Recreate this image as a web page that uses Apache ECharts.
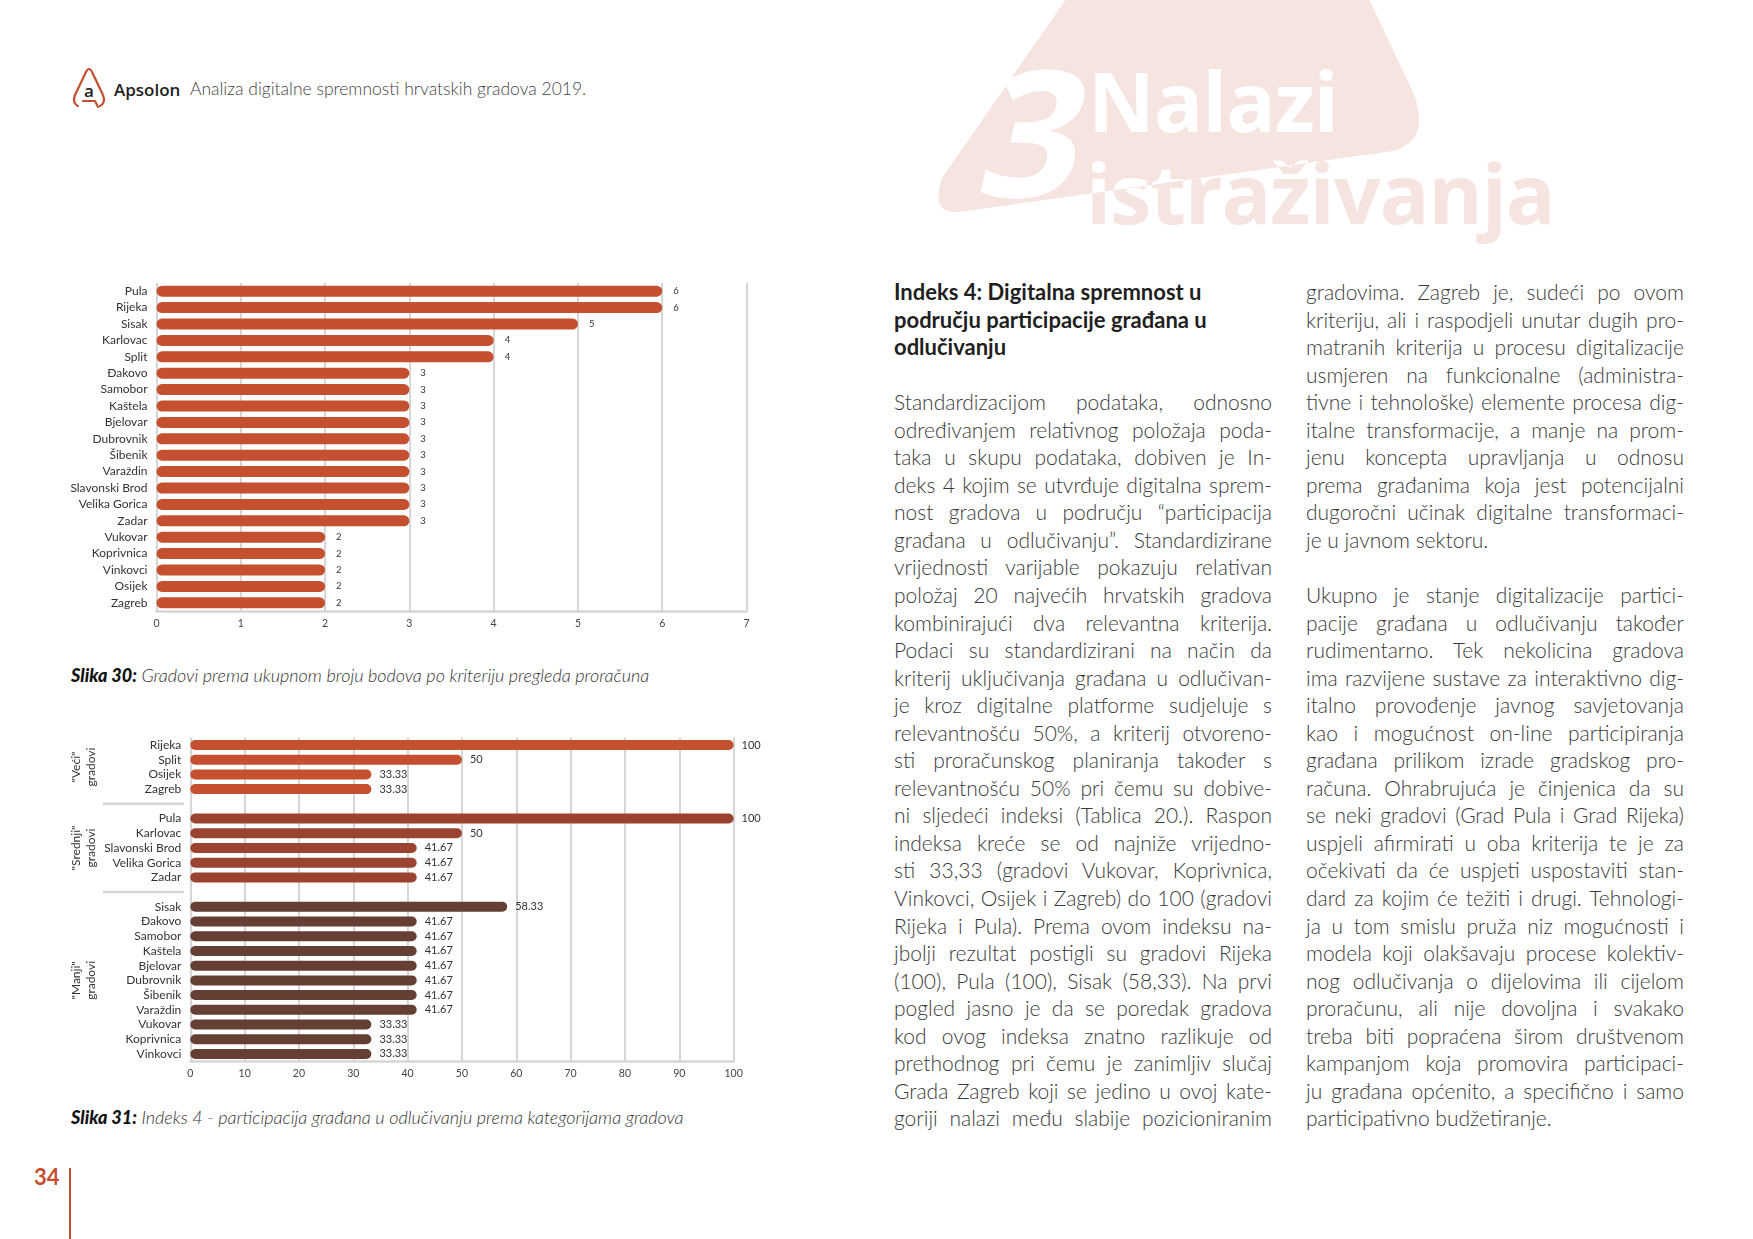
<!DOCTYPE html>
<html>
<head>
<meta charset="utf-8">
<script src="https://cdn.jsdelivr.net/npm/echarts@6/dist/echarts.min.js"></script>
<style>
  html, body { margin: 0; padding: 0; background: #fff; }
  #page { position: relative; width: 1753px; height: 1239px; overflow: hidden; background: #fff; font-family: Lato, "Open Sans", sans-serif; }
  #deco { position: absolute; left: 0; top: 0; }
  #chart { position: absolute; left: 0; top: 0; width: 1753px; height: 1239px; }
  .hdr { position: absolute; white-space: nowrap; }
  .col { position: absolute; width: 378px; color: #3a3a3a; font-weight: 300; font-size: 21px; }
  .ln { height: 27.55px; line-height: 27.55px; white-space: nowrap; text-align: justify; text-align-last: justify; }
  .ln.last { text-align: left; text-align-last: left; }
  .hd { font-weight: 700; color: #1f1f1f; font-size: 22px; text-align-last: left; text-align: left; }
  .cap { position: absolute; font-style: italic; font-weight: 300; font-size: 18px; color: #333; white-space: nowrap; }
  .cap b { font-weight: 900; color: #111; }
</style>
</head>
<body>
<div id="page">
  <svg id="deco" width="1753" height="1239" xmlns="http://www.w3.org/2000/svg">
    <defs>
      <clipPath id="shapeClip">
        <path d="M1069,-5 L1367,-5 L1413,92 Q1432,140 1393,151 L966,211 Q928,218 942,178 Z"/>
      </clipPath>
    </defs>
    <path d="M1069,-5 L1367,-5 L1413,92 Q1432,140 1393,151 L966,211 Q928,218 942,178 Z" fill="#f6e4e0"/>
    <g font-family="'Open Sans', sans-serif" font-weight="700">
      <text x="1086" y="224" font-size="82.5" fill="#f6e4e0" letter-spacing="-1">istraživanja</text>
      <g clip-path="url(#shapeClip)" fill="#ffffff">
        <text x="975" y="197" font-size="176" transform="skewX(-12) translate(40,0)">3</text>
        <text x="1088" y="132" font-size="82" letter-spacing="-1">Nalazi</text>
        <text x="1086" y="224" font-size="82.5" letter-spacing="-1">istraživanja</text>
      </g>
    </g>
    <!-- logo -->
    <g fill="none" stroke="#c4502f" stroke-width="2.2" stroke-linecap="round" stroke-linejoin="round">
      <path d="M78,106 Q72,103 75,95 L86,72 Q89,66 92,72 L103,95 Q106,103 100,106"/>
      <path d="M83,101 L95,101 L98,107"/>
    </g>
    <text x="89" y="97" font-family="'Open Sans', sans-serif" font-weight="600" font-size="17" fill="#222" text-anchor="middle">a</text>
    <line x1="70" y1="1168" x2="70" y2="1239" stroke="#c4502f" stroke-width="2"/>
  </svg>

  <div class="hdr" style="left:114px; top:78px; font-size:17px; color:#222; font-family:'Open Sans',sans-serif; font-weight:600;">Apsolon</div>
  <div class="hdr" style="left:190px; top:78px; font-size:17.5px; font-weight:300; color:#444;">Analiza digitalne spremnosti hrvatskih gradova 2019.</div>

  <div class="hdr" style="left:34px; top:1163px; font-size:22px; font-weight:700; color:#c4502f;">34</div>

  <div class="cap" style="left:71px; top:664px;"><b>Slika 30:</b> Gradovi prema ukupnom broju bodova po kriteriju pregleda proračuna</div>
  <div class="cap" style="left:71px; top:1106px;"><b>Slika 31:</b> Indeks 4 - participacija građana u odlučivanju prema kategorijama gradova</div>

  <div class="col" id="col1" style="left:894px; top:278px;"></div>
  <div class="col" id="col2" style="left:1306px; top:278px;"></div>

  <div id="chart"></div>
</div>
<script>
// ---------- Chart 1 data (Slika 30) ----------
const cities1 = ['Pula','Rijeka','Sisak','Karlovac','Split','Đakovo','Samobor','Kaštela','Bjelovar','Dubrovnik','Šibenik','Varaždin','Slavonski Brod','Velika Gorica','Zadar','Vukovar','Koprivnica','Vinkovci','Osijek','Zagreb'];
const points1 = [6,6,5,4,4,3,3,3,3,3,3,3,3,3,3,2,2,2,2,2];
const axis1Max = 7;

// ---------- Chart 2 data (Slika 31) ----------
const bigCities = ['Rijeka','Split','Osijek','Zagreb'];
const bigIndex = [100,50,33.33,33.33];
const midCities = ['Pula','Karlovac','Slavonski Brod','Velika Gorica','Zadar'];
const midIndex = [100,50,41.67,41.67,41.67];
const smallCities = ['Sisak','Đakovo','Samobor','Kaštela','Bjelovar','Dubrovnik','Šibenik','Varaždin','Vukovar','Koprivnica','Vinkovci'];
const smallIndex = [58.33,41.67,41.67,41.67,41.67,41.67,41.67,41.67,33.33,33.33,33.33];
const groupLabels = ['"Veći"\ngradovi','"Srednji"\ngradovi','"Manji"\ngradovi'];
const axis2Max = 100;

// ---------- Text columns ----------
const heading = ['Indeks 4: Digitalna spremnost u','području participacije građana u','odlučivanju'];
const col1Lines = [
'Standardizacijom podataka, odnosno',
'određivanjem relativnog položaja poda-',
'taka u skupu podataka, dobiven je In-',
'deks 4 kojim se utvrđuje digitalna sprem-',
'nost gradova u području “participacija',
'građana u odlučivanju”. Standardizirane',
'vrijednosti varijable pokazuju relativan',
'položaj 20 najvećih hrvatskih gradova',
'kombinirajući dva relevantna kriterija.',
'Podaci su standardizirani na način da',
'kriterij uključivanja građana u odlučivan-',
'je kroz digitalne platforme sudjeluje s',
'relevantnošću 50%, a kriterij otvoreno-',
'sti proračunskog planiranja također s',
'relevantnošću 50% pri čemu su dobive-',
'ni sljedeći indeksi (Tablica 20.). Raspon',
'indeksa kreće se od najniže vrijedno-',
'sti 33,33 (gradovi Vukovar, Koprivnica,',
'Vinkovci, Osijek i Zagreb) do 100 (gradovi',
'Rijeka i Pula). Prema ovom indeksu na-',
'jbolji rezultat postigli su gradovi Rijeka',
'(100), Pula (100), Sisak (58,33). Na prvi',
'pogled jasno je da se poredak gradova',
'kod ovog indeksa znatno razlikuje od',
'prethodnog pri čemu je zanimljiv slučaj',
'Grada Zagreb koji se jedino u ovoj kate-',
'goriji nalazi među slabije pozicioniranim'];
const col2Para1 = [
'gradovima. Zagreb je, sudeći po ovom',
'kriteriju, ali i raspodjeli unutar dugih pro-',
'matranih kriterija u procesu digitalizacije',
'usmjeren na funkcionalne (administra-',
'tivne i tehnološke) elemente procesa dig-',
'italne transformacije, a manje na prom-',
'jenu koncepta upravljanja u odnosu',
'prema građanima koja jest potencijalni',
'dugoročni učinak digitalne transformaci-',
'je u javnom sektoru.'];
const col2Para2 = [
'Ukupno je stanje digitalizacije partici-',
'pacije građana u odlučivanju također',
'rudimentarno. Tek nekolicina gradova',
'ima razvijene sustave za interaktivno dig-',
'italno provođenje javnog savjetovanja',
'kao i mogućnost on-line participiranja',
'građana prilikom izrade gradskog pro-',
'računa. Ohrabrujuća je činjenica da su',
'se neki gradovi (Grad Pula i Grad Rijeka)',
'uspjeli afirmirati u oba kriterija te je za',
'očekivati da će uspjeti uspostaviti stan-',
'dard za kojim će težiti i drugi. Tehnologi-',
'ja u tom smislu pruža niz mogućnosti i',
'modela koji olakšavaju procese kolektiv-',
'nog odlučivanja o dijelovima ili cijelom',
'proračunu, ali nije dovoljna i svakako',
'treba biti popraćena širom društvenom',
'kampanjom koja promovira participaci-',
'ju građana općenito, a specifično i samo',
'participativno budžetiranje.'];

function addLine(el, text, cls) {
  const d = document.createElement('div');
  d.className = 'ln' + (cls ? ' ' + cls : '');
  d.textContent = text || '\u00a0';
  el.appendChild(d);
}
const c1 = document.getElementById('col1');
heading.forEach(t => addLine(c1, t, 'hd'));
addLine(c1, '', 'last');
col1Lines.forEach(t => addLine(c1, t));
const c2 = document.getElementById('col2');
col2Para1.forEach((t, i) => addLine(c2, t, i === col2Para1.length - 1 ? 'last' : ''));
addLine(c2, '', 'last');
col2Para2.forEach((t, i) => addLine(c2, t, i === col2Para2.length - 1 ? 'last' : ''));

// ---------- Build chart 2 categories ----------
const cats2 = [...bigCities, ' ', ...midCities, '  ', ...smallCities];
function groupSeries(values, offset) {
  const arr = cats2.map(() => '-');
  values.forEach((v, i) => { arr[offset + i] = v; });
  return arr;
}
const offMid = bigCities.length + 1;
const offSmall = offMid + midCities.length + 1;

const gridColor = '#d6d6d6';
const labelFont = 'Lato, "Open Sans", sans-serif';
const colors = ['#c4502f', '#9b4331', '#663f34'];

const chart = echarts.init(document.getElementById('chart'), null, { renderer: 'canvas' });

function valueAxis(gridIndex, max, interval) {
  return {
    type: 'value', gridIndex, min: 0, max, interval,
    axisLine: { show: true, lineStyle: { color: gridColor, width: 2.5 } },
    axisTick: { show: false },
    splitLine: { show: true, lineStyle: { color: gridColor, width: 2 } },
    axisLabel: { color: '#444', fontSize: 10.5, fontFamily: labelFont, margin: 7 }
  };
}
function catAxis(gridIndex, data) {
  return {
    type: 'category', gridIndex, data, inverse: true,
    axisLine: { show: false }, axisTick: { show: false },
    axisLabel: { interval: 0, color: '#333', fontSize: 12, fontFamily: labelFont, margin: 9 }
  };
}
function barSeries(data, color, xi, yi, dist, fs, width) {
  return {
    type: 'bar', xAxisIndex: xi, yAxisIndex: yi, data,
    barWidth: width, barGap: '-100%',
    itemStyle: { color, borderRadius: width / 2 },
    label: { show: true, position: 'right', distance: dist, color: '#333', fontSize: fs, fontFamily: labelFont },
    emphasis: { disabled: true }, animation: false
  };
}

chart.setOption({
  animation: false,
  grid: [
    { left: 156.5, top: 283, width: 590, height: 328, containLabel: false },
    { left: 190.3, top: 737.6, width: 543.3, height: 323.7, containLabel: false }
  ],
  xAxis: [ valueAxis(0, axis1Max, 1), valueAxis(1, axis2Max, 10) ],
  yAxis: [ catAxis(0, cities1), catAxis(1, cats2) ],
  series: [
    barSeries(points1, colors[0], 0, 0, 11, 9.5, 11),
    barSeries(groupSeries(bigIndex, 0), colors[0], 1, 1, 8, 11, 10),
    barSeries(groupSeries(midIndex, offMid), colors[1], 1, 1, 8, 11, 10),
    barSeries(groupSeries(smallIndex, offSmall), colors[2], 1, 1, 8, 11, 10)
  ]
});

// group separators & rotated group labels, positioned through the axis
const yOf = i => chart.convertToPixel({ yAxisIndex: 1 }, i);
const groups = [
  [0, bigCities.length - 1],
  [offMid, offMid + midCities.length - 1],
  [offSmall, offSmall + smallCities.length - 1]
];
const graphics = [];
[bigCities.length, offMid + midCities.length].forEach(idx => {
  const y = yOf(idx);
  graphics.push({ type: 'line', shape: { x1: 103, y1: y, x2: 184, y2: y }, style: { stroke: gridColor, lineWidth: 2.5 }, silent: true });
});
groups.forEach((g, k) => {
  const y = (yOf(g[0]) + yOf(g[1])) / 2;
  graphics.push({
    type: 'text', x: 84, y, rotation: Math.PI / 2, silent: true,
    style: { text: groupLabels[k], fill: '#333', fontSize: 12, fontFamily: labelFont, lineHeight: 15, align: 'center', verticalAlign: 'middle' }
  });
});
chart.setOption({ graphic: graphics });
</script>
</body>
</html>
